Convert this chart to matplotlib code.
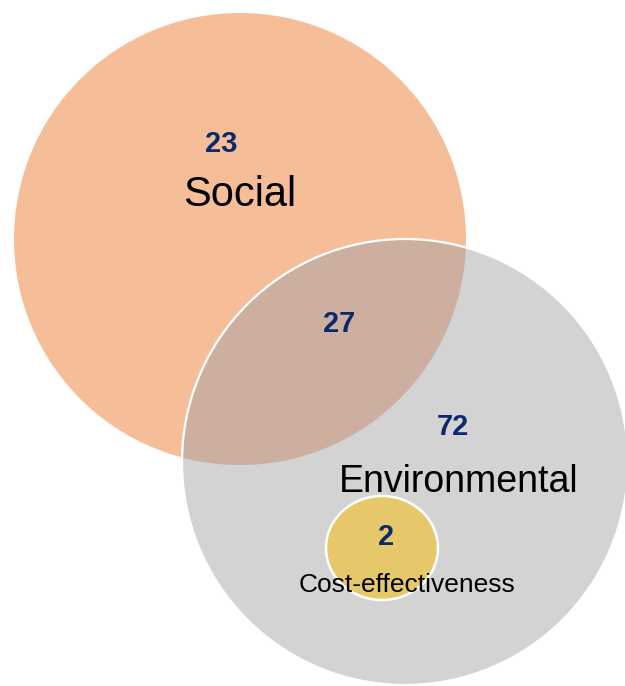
import matplotlib
matplotlib.use("Agg")
import matplotlib.pyplot as plt
from matplotlib.patches import Circle, Ellipse

# ---- data ----
set_names = ["Social", "Environmental", "Cost-effectiveness"]
region_labels = ["Social only", "Social & Environmental", "Environmental only", "Cost-effectiveness"]
region_counts = [23, 27, 72, 2]

# ---- layout (pixel coordinates, y downward) ----
W, H = 625, 686
fig = plt.figure(figsize=(W / 100, H / 100), dpi=100)
ax = fig.add_axes([0, 0, 1, 1])
ax.set_xlim(0, W)
ax.set_ylim(H, 0)
ax.axis("off")

FONT = ["Liberation Sans", "DejaVu Sans"]
NAVY = "#0B2A6B"
ORANGE = "#F5BE98"
GRAY = "#D3D3D3"
OVERLAP = "#CCAF9F"
YELLOW = "#E6C86A"

ENV_C, ENV_R = (405, 462), 223

social = Circle((240, 239), 226, facecolor=ORANGE, edgecolor="none", zorder=1)
ax.add_patch(social)

env = Circle(ENV_C, ENV_R, facecolor=GRAY, edgecolor="none", zorder=2)
ax.add_patch(env)

overlap = Circle(ENV_C, ENV_R, facecolor=OVERLAP, edgecolor="none", zorder=3)
ax.add_patch(overlap)
overlap.set_clip_path(social)

env_edge = Circle(ENV_C, ENV_R, facecolor="none", edgecolor="white", lw=1.6, zorder=4)
ax.add_patch(env_edge)

cost = Ellipse((382, 548), 112, 104, facecolor=YELLOW, edgecolor="white", lw=1.8, zorder=5)
ax.add_patch(cost)

# set names
name_pos = [(240, 206), (459, 491.5), (406.5, 592)]
name_sizes = [30, 27, 19]
for name, (x, y), fs in zip(set_names, name_pos, name_sizes):
    ax.text(x, y, name, ha="center", va="baseline", fontsize=fs,
            color="black", family=FONT, zorder=6)

# region counts
count_pos = [(221, 152), (339.5, 332), (453, 435), (386, 545)]
for c, (x, y) in zip(region_counts, count_pos):
    ax.text(x, y, str(c), ha="center", va="baseline", fontsize=21,
            fontweight="bold", color=NAVY, family=FONT, zorder=7)

fig.savefig("out.png", dpi=100)
